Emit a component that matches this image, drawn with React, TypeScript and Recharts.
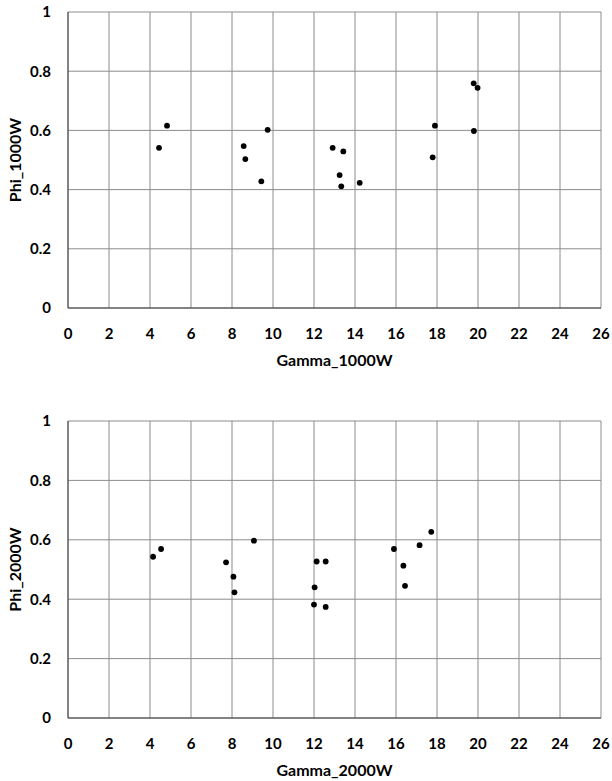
import React from "react";
import {
  ScatterChart,
  Scatter,
  XAxis,
  YAxis,
  CartesianGrid,
} from "recharts";

// Phi vs Gamma, two stacked scatter panels (1000W on top, 2000W below).

const gamma1000 = [4.44, 4.83, 8.57, 8.65, 9.43, 9.74, 12.91, 13.25, 13.33, 13.43, 14.23, 17.79, 17.9, 19.79, 19.8, 19.98];
const phi1000 = [0.541, 0.616, 0.547, 0.503, 0.428, 0.602, 0.541, 0.449, 0.411, 0.529, 0.423, 0.509, 0.616, 0.759, 0.598, 0.744];

const gamma2000 = [4.15, 4.54, 7.71, 8.07, 8.12, 9.07, 12.0, 12.03, 12.13, 12.57, 12.57, 15.9, 16.36, 16.44, 17.15, 17.72];
const phi2000 = [0.543, 0.569, 0.524, 0.476, 0.423, 0.597, 0.382, 0.44, 0.527, 0.527, 0.374, 0.569, 0.513, 0.445, 0.582, 0.627];

const xTicks = [0, 2, 4, 6, 8, 10, 12, 14, 16, 18, 20, 22, 24, 26];
const yTicks = [0, 0.2, 0.4, 0.6, 0.8, 1];

const FONT = "Lato, 'Open Sans', sans-serif";
const tickStyle = { fill: "#000", fontSize: 15, fontWeight: 700, fontFamily: FONT };
const labelStyle = { fill: "#000", fontSize: 16, fontWeight: 700, fontFamily: FONT };

const Dot = (props: any) => <circle cx={props.cx} cy={props.cy} r={2.9} fill="#000" />;

interface PanelProps {
  xs: number[];
  ys: number[];
  xLabel: string;
  yLabel: string;
  height: number;
  bottom: number;
}

function Panel({ xs, ys, xLabel, yLabel, height, bottom }: PanelProps) {
  const data = xs.map((x, i) => ({ x, y: ys[i] }));
  return (
    <ScatterChart
      width={612}
      height={height}
      margin={{ top: 12, right: 11, bottom, left: 0 }}
    >
      <CartesianGrid stroke="#8c8c8c" strokeWidth={1} />
      <XAxis
        type="number"
        dataKey="x"
        domain={[0, 26]}
        ticks={xTicks}
        interval={0}
        height={60}
        tickSize={0}
        tickMargin={20}
        tickLine={false}
        axisLine={{ stroke: "#404040" }}
        tick={tickStyle}
        label={{ value: xLabel, position: "insideBottom", offset: 2, style: labelStyle }}
      />
      <YAxis
        type="number"
        dataKey="y"
        domain={[0, 1]}
        ticks={yTicks}
        interval={0}
        width={68}
        tickSize={0}
        tickMargin={17}
        tickLine={false}
        axisLine={{ stroke: "#404040" }}
        tick={tickStyle}
        label={{
          value: yLabel,
          angle: -90,
          position: "insideLeft",
          offset: 15,
          style: { ...labelStyle, textAnchor: "middle" },
        }}
      />
      <Scatter data={data} shape={<Dot />} isAnimationActive={false} />
    </ScatterChart>
  );
}

export default function App() {
  return (
    <div style={{ position: "absolute", left: 0, top: 0, width: 612, height: 781, background: "#fff" }}>
      <div style={{ position: "absolute", left: 0, top: 0 }}>
        <Panel xs={gamma1000} ys={phi1000} xLabel="Gamma_1000W" yLabel="Phi_1000W" height={390} bottom={22} />
      </div>
      <div style={{ position: "absolute", left: 0, top: 409 }}>
        <Panel xs={gamma2000} ys={phi2000} xLabel="Gamma_2000W" yLabel="Phi_2000W" height={372} bottom={3} />
      </div>
    </div>
  );
}
